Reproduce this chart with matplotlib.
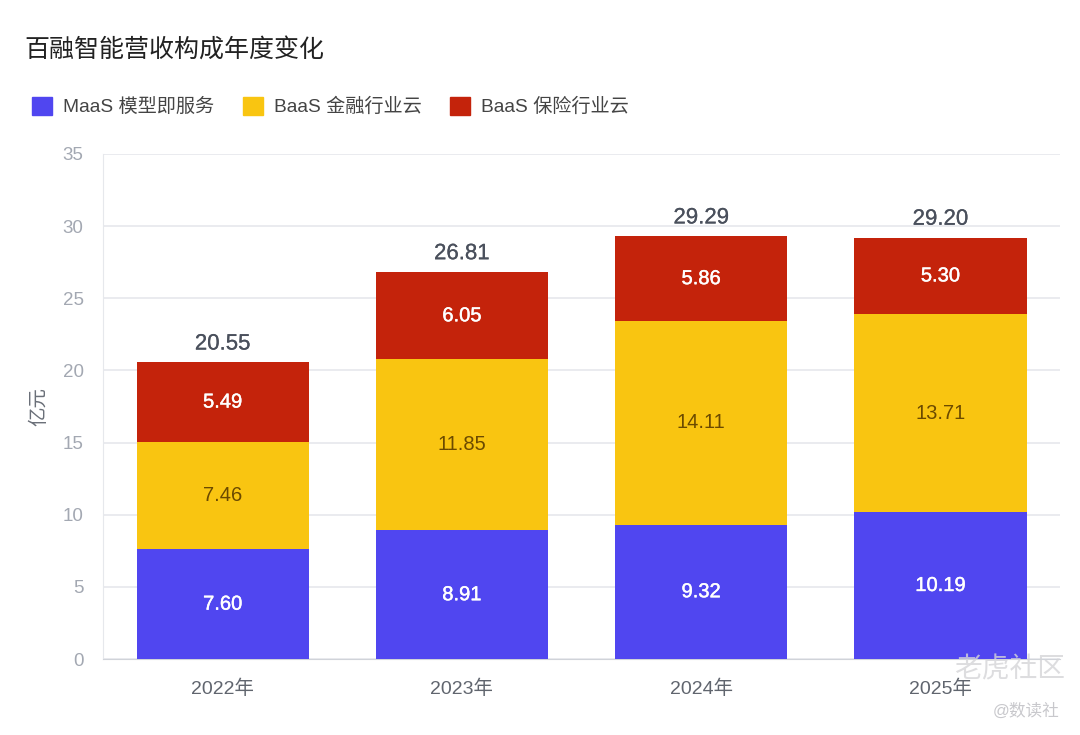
import matplotlib
matplotlib.use('Agg')
import matplotlib.pyplot as plt
import matplotlib.patheffects as pe
from matplotlib.patches import Patch
import numpy as np

plt.rcParams['font.family'] = ['Liberation Sans', 'Noto Sans CJK SC', 'DejaVu Sans']

years = ['2022年', '2023年', '2024年', '2025年']
maas = [7.60, 8.91, 9.32, 10.19]
baas_fin = [7.46, 11.85, 14.11, 13.71]
baas_ins = [5.49, 6.05, 5.86, 5.30]
totals = [20.55, 26.81, 29.29, 29.20]
series_names = ['MaaS 模型即服务', 'BaaS 金融行业云', 'BaaS 保险行业云']

blue = '#5046F0'
yellow = '#F9C511'
red = '#C4230B'

fig = plt.figure(figsize=(10.8, 7.35), dpi=100)
ax = fig.add_axes([0.0954, 0.1034, 0.8861, 0.6871])

x = np.arange(len(years))
w = 0.72
ax.bar(x, maas, w, color=blue, zorder=3)
ax.bar(x, baas_fin, w, bottom=maas, color=yellow, zorder=3)
bot3 = np.array(maas) + np.array(baas_fin)
ax.bar(x, baas_ins, w, bottom=bot3, color=red, zorder=3)

# white labels look a touch heavier in the original
thick = [pe.withStroke(linewidth=0.3, foreground='white')]
tot_fx = [pe.withStroke(linewidth=0.15, foreground='#4A505C')]

for i in range(len(years)):
    ax.text(x[i], maas[i] / 2, '%.2f' % maas[i], ha='center', va='center',
            color='white', fontsize=14.5, zorder=4, path_effects=thick)
    ax.text(x[i], maas[i] + baas_fin[i] / 2, '%.2f' % baas_fin[i], ha='center',
            va='center', color='#6B4A00', fontsize=14.5, zorder=4)
    ax.text(x[i], bot3[i] + baas_ins[i] / 2, '%.2f' % baas_ins[i], ha='center',
            va='center', color='white', fontsize=14.5, zorder=4, path_effects=thick)
    ax.text(x[i], totals[i] + 0.55, '%.2f' % totals[i], ha='center', va='bottom',
            color='#4A505C', fontsize=16, zorder=4, path_effects=tot_fx)

ax.set_xlim(-0.5, 3.5)
ax.set_ylim(0, 35)
ax.set_yticks(range(0, 36, 5))
ax.set_xticks(x)
ax.set_xticklabels(years)
ax.grid(axis='y', color='#E6E8EC', linewidth=1.2, zorder=0)
for s in ['top', 'right']:
    ax.spines[s].set_visible(False)
ax.spines['left'].set_color('#E6E8EC')
ax.spines['bottom'].set_color('#D0D3D9')
ax.tick_params(axis='y', length=0, labelsize=13.5, labelcolor='#A3A8B2', pad=14)
ax.tick_params(axis='x', length=0, labelsize=14, labelcolor='#60656E', pad=15)
ax.set_ylabel('亿元', fontsize=14, color='#6A6F78', labelpad=10)

fig.text(0.023, 0.932, '百融智能营收构成年度变化', fontsize=18, color='#222222',
         va='center', ha='left')

handles = [Patch(facecolor=c, edgecolor=c) for c in [blue, yellow, red]]
leg = fig.legend(handles, series_names, loc='center left',
                 bbox_to_anchor=(0.014, 0.855), ncol=3, frameon=False,
                 fontsize=13.8, handlelength=1.05, handleheight=1.05,
                 handletextpad=0.55, columnspacing=1.5)
for t in leg.get_texts():
    t.set_color('#444444')

# watermark
fig.text(0.935, 0.088, '老虎社区', fontsize=20, color='#D5D5D8', ha='center',
         va='center', style='italic', alpha=0.8)
fig.text(0.95, 0.033, '@数读社', fontsize=12, color='#C8C8CC', ha='center',
         va='center')

fig.savefig('out.png', dpi=100)
